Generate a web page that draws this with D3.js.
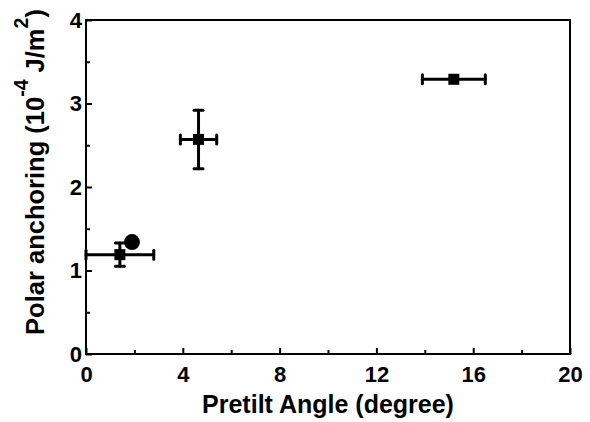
<!DOCTYPE html>
<html>
<head>
<meta charset="utf-8">
<script src="https://cdn.jsdelivr.net/npm/d3@7"></script>
<style>
  html, body { margin: 0; padding: 0; background: #fff; }
  svg { display: block; }
  text { font-family: "Liberation Sans", Arial, sans-serif; font-weight: bold; fill: #000; }
</style>
</head>
<body>
<svg id="chart" width="590" height="422"></svg>
<script>
// Measurements: pretilt angle (deg) vs polar anchoring strength (1e-4 J/m^2)
const pretilt    = [1.4, 4.65, 15.2];
const anchoring  = [1.19, 2.57, 3.29];
const pretiltErr = [1.4, 0.75, 1.3];
const anchorErr  = [0.14, 0.35, 0];
// Single circle-marked sample
const circleX = [1.9];
const circleY = [1.34];

const xTicks = [0, 4, 8, 12, 16, 20];
const yTicks = [0, 1, 2, 3, 4];
const xMinor = [2, 6, 10, 14, 18];
const yMinor = [0.5, 1.5, 2.5, 3.5];

const svg = d3.select("#chart");
const m = { left: 86, right: 570, top: 20, bottom: 354 };

const x = d3.scaleLinear().domain([0, 20]).range([m.left, m.right]);
const y = d3.scaleLinear().domain([0, 4]).range([m.bottom, m.top]);

// Frame
svg.append("rect")
  .attr("x", m.left).attr("y", m.top)
  .attr("width", m.right - m.left).attr("height", m.bottom - m.top)
  .attr("fill", "none").attr("stroke", "#000").attr("stroke-width", 2);

// Bottom axis: inward ticks, minor ticks at midpoints
const gx = svg.append("g").attr("transform", `translate(0,${m.bottom})`)
  .call(d3.axisBottom(x).tickValues(xTicks).tickSize(-6).tickPadding(12).tickFormat(d3.format("d")));
gx.select(".domain").remove();
gx.selectAll(".tick line").attr("stroke-width", 2);
gx.selectAll(".tick text").style("font-size", "22px").attr("dy", "0.71em");
svg.append("g").attr("transform", `translate(0,${m.bottom})`)
  .call(d3.axisBottom(x).tickValues(xMinor).tickSize(-4).tickFormat(""))
  .call(g => g.select(".domain").remove())
  .selectAll(".tick line").attr("stroke-width", 2);

// Left axis
const gy = svg.append("g").attr("transform", `translate(${m.left},0)`)
  .call(d3.axisLeft(y).tickValues(yTicks).tickSize(-6).tickPadding(4).tickFormat(d3.format("d")));
gy.select(".domain").remove();
gy.selectAll(".tick line").attr("stroke-width", 2);
gy.selectAll(".tick text").style("font-size", "22px");
svg.append("g").attr("transform", `translate(${m.left},0)`)
  .call(d3.axisLeft(y).tickValues(yMinor).tickSize(-4).tickFormat(""))
  .call(g => g.select(".domain").remove())
  .selectAll(".tick line").attr("stroke-width", 2);

// Axis titles
svg.append("text")
  .attr("x", (m.left + m.right) / 2).attr("y", 395)
  .attr("text-anchor", "middle").attr("dy", "0.71em")
  .style("font-size", "25px")
  .text("Pretilt Angle (degree)");

const yt = svg.append("text")
  .attr("transform", "translate(44,172) rotate(-90)")
  .attr("text-anchor", "middle")
  .style("font-size", "25.5px");
yt.append("tspan").text("Polar anchoring (10");
yt.append("tspan").attr("dy", -16).style("font-size", "19.5px").text("-4");
yt.append("tspan").attr("dy", 16).text(" J/m");
yt.append("tspan").attr("dy", -16).style("font-size", "19.5px").text("2");
yt.append("tspan").attr("dy", 16).text(")");

// Error bars
const pts = pretilt.map((d, i) => ({ x: d, y: anchoring[i], ex: pretiltErr[i], ey: anchorErr[i] }));
const cap = 4.5;
const eb = svg.append("g").attr("stroke", "#000").attr("stroke-width", 3).attr("stroke-linecap", "round");
pts.forEach(p => {
  if (p.ex > 0) {
    eb.append("line").attr("x1", x(p.x - p.ex)).attr("x2", x(p.x + p.ex)).attr("y1", y(p.y)).attr("y2", y(p.y));
    eb.append("line").attr("x1", x(p.x - p.ex)).attr("x2", x(p.x - p.ex)).attr("y1", y(p.y) - cap).attr("y2", y(p.y) + cap);
    eb.append("line").attr("x1", x(p.x + p.ex)).attr("x2", x(p.x + p.ex)).attr("y1", y(p.y) - cap).attr("y2", y(p.y) + cap);
  }
  if (p.ey > 0) {
    eb.append("line").attr("x1", x(p.x)).attr("x2", x(p.x)).attr("y1", y(p.y - p.ey)).attr("y2", y(p.y + p.ey));
    eb.append("line").attr("x1", x(p.x) - cap).attr("x2", x(p.x) + cap).attr("y1", y(p.y - p.ey)).attr("y2", y(p.y - p.ey));
    eb.append("line").attr("x1", x(p.x) - cap).attr("x2", x(p.x) + cap).attr("y1", y(p.y + p.ey)).attr("y2", y(p.y + p.ey));
  }
});

// Square markers
const s = 11;
svg.append("g").selectAll("rect").data(pts).join("rect")
  .attr("x", d => x(d.x) - s / 2).attr("y", d => y(d.y) - s / 2)
  .attr("width", s).attr("height", s).attr("fill", "#000");

// Circle marker
svg.append("g").selectAll("circle").data(circleX).join("circle")
  .attr("cx", d => x(d)).attr("cy", (d, i) => y(circleY[i]))
  .attr("r", 8).attr("fill", "#000");
</script>
</body>
</html>
